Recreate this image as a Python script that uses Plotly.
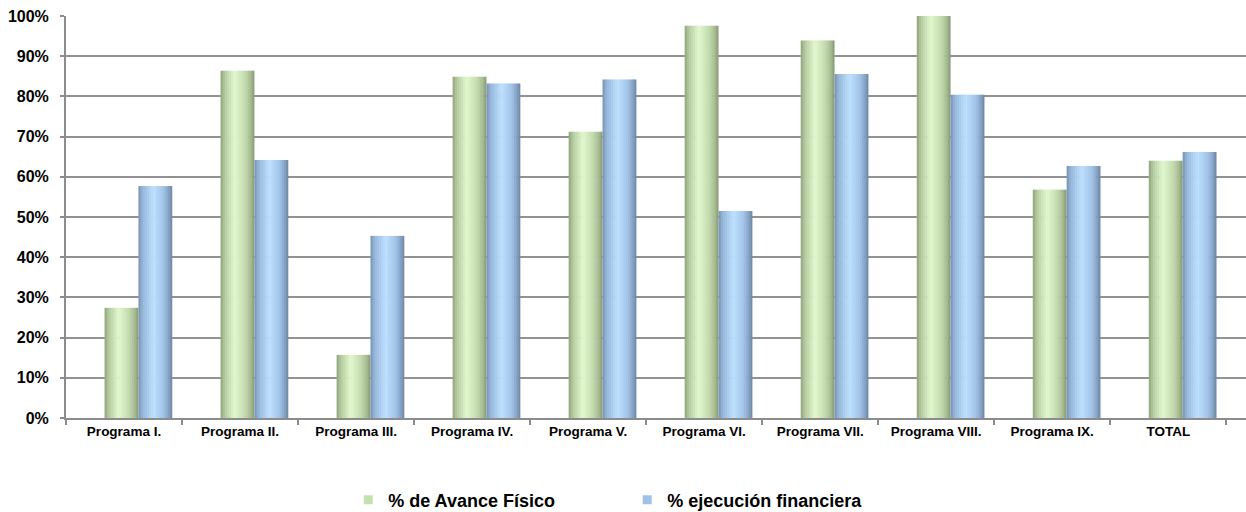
import plotly.graph_objects as go

categories = ["Programa I.", "Programa II.", "Programa III.", "Programa IV.", "Programa V.",
              "Programa VI.", "Programa VII.", "Programa VIII.", "Programa IX.", "TOTAL"]
avance_fisico = [27.4, 86.4, 15.7, 84.9, 71.2, 97.6, 93.9, 100.0, 56.8, 64.0]
ejecucion_financiera = [57.7, 64.2, 45.3, 83.2, 84.2, 51.5, 85.6, 80.4, 62.7, 66.2]
series_names = ["% de Avance Físico", "% ejecución financiera"]
y_ticks = [0, 10, 20, 30, 40, 50, 60, 70, 80, 90, 100]
y_tick_labels = [f"{v}%" for v in y_ticks]

FONT = "Liberation Sans, Arial, sans-serif"

green_stops = [(0.0, "#8ea37b"), (0.12, "#b4ca9f"), (0.42, "#e1f7cd"), (0.72, "#c3daae"),
               (0.9, "#a3b88e"), (1.0, "#839772")]
blue_stops = [(0.0, "#7691b0"), (0.12, "#97b7da"), (0.45, "#bde0ff"), (0.75, "#a1c3e7"),
              (0.92, "#7e9bbc"), (1.0, "#6a83a0")]


def hex2rgb(h):
    h = h.lstrip("#")
    return tuple(int(h[i:i + 2], 16) for i in (0, 2, 4))


def grad(stops, t):
    for (t0, c0), (t1, c1) in zip(stops[:-1], stops[1:]):
        if t0 <= t <= t1:
            f = (t - t0) / (t1 - t0) if t1 > t0 else 0
            a, b = hex2rgb(c0), hex2rgb(c1)
            return "rgb(%d,%d,%d)" % tuple(round(a[k] + (b[k] - a[k]) * f) for k in range(3))
    return stops[-1][1]


fig = go.Figure()

BAR_W = 0.292
N = 16
specs = [(avance_fisico, -0.168, green_stops), (ejecucion_financiera, -0.168 + BAR_W, blue_stops)]
for vals, start, stops in specs:
    sw = BAR_W / N
    for i in range(N):
        t = (i + 0.5) / N
        extra = sw * 0.25 if i < N - 1 else 0
        fig.add_trace(go.Bar(
            x=categories, y=vals, width=sw + extra, offset=start + i * sw,
            marker=dict(color=grad(stops, t), line=dict(width=0)),
            showlegend=False, hoverinfo="skip"))

legend_colors = ["#c4e0af", "#9fc3e8"]
for name, col in zip(series_names, legend_colors):
    fig.add_trace(go.Scatter(
        x=[None], y=[None], mode="markers", name=name,
        marker=dict(symbol="square", size=9, color=col)))

fig.update_layout(
    width=1246, height=512,
    barmode="overlay",
    paper_bgcolor="white", plot_bgcolor="white",
    margin=dict(l=66, r=0, t=16, b=94, autoexpand=False),
    font=dict(family=FONT, color="black"),
    legend=dict(orientation="h", x=0.4756, xanchor="center", y=-0.204, yanchor="middle",
                font=dict(size=18, family=FONT, weight="bold"),
                entrywidth=234, itemwidth=30, tracegroupgap=0),
    xaxis=dict(type="category", categoryorder="array", categoryarray=categories,
               range=[-0.5, 9.67], showgrid=False, automargin=False,
               showline=True, linecolor="#8c8c8c", linewidth=2,
               ticks="outside", tickson="boundaries", ticklen=5, tickcolor="#8c8c8c", tickwidth=1.5,
               tickfont=dict(size=13.5, family=FONT, weight="bold")),
    yaxis=dict(range=[0, 100], tickvals=y_ticks, ticktext=y_tick_labels,
               showgrid=True, gridcolor="#929292", gridwidth=2, automargin=False,
               showline=True, linecolor="#8c8c8c", linewidth=2,
               ticks="outside", ticklen=4, tickcolor="#8c8c8c", tickwidth=1.5,
               ticklabelstandoff=8,
               zeroline=False,
               tickfont=dict(size=16, family=FONT, weight="bold")),
)

fig.write_html("out.html", config={"displayModeBar": False},
               post_script="document.body.style.margin='0';document.body.style.overflow='hidden';")
